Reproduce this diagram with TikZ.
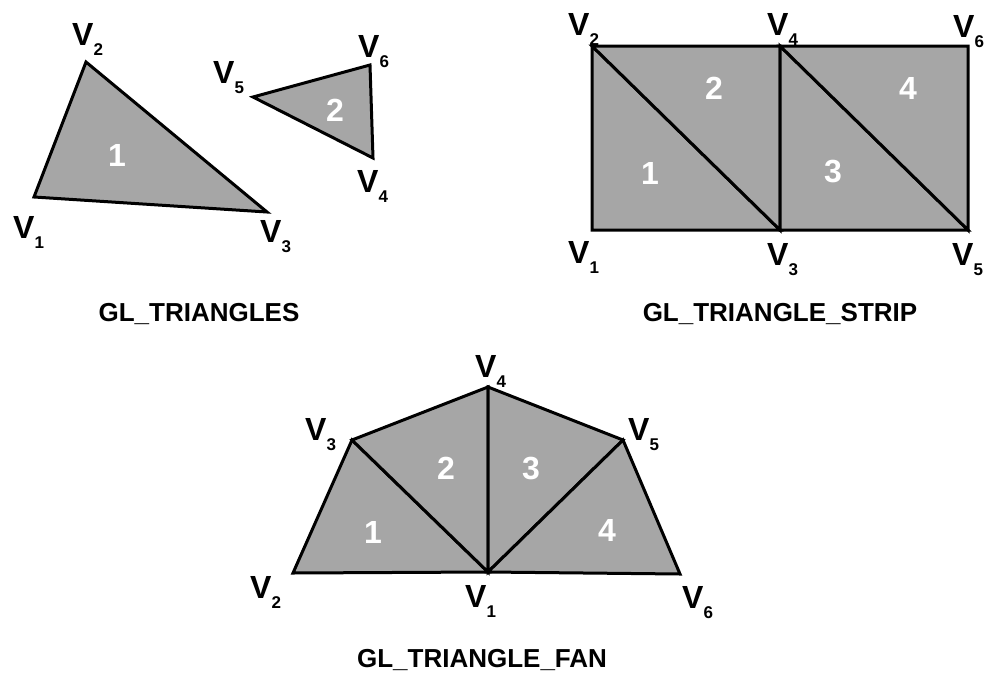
\documentclass[tikz,border=0pt]{standalone}
\usepackage{fontspec}
\setmainfont{Liberation Sans}
\definecolor{trifill}{HTML}{A6A6A6}
\definecolor{triink}{HTML}{000000}
\newcommand{\vsub}[1]{V\raisebox{-10pt}{\fontsize{17}{17}\selectfont #1}}

\begin{document}
\begin{tikzpicture}[
  x=1pt, y=-1pt,
  font=\fontsize{32}{32}\selectfont\bfseries,
  tri/.style={fill=trifill, draw=triink, line width=3pt, line join=miter},
  num/.style={text=white, inner sep=0pt},
  vlab/.style={anchor=base west, inner sep=0pt, text=triink},
  title/.style={anchor=base, inner sep=0pt, font=\fontsize{26}{26}\selectfont\bfseries}]
\useasboundingbox (0,0) rectangle (996,675);
% GL_TRIANGLES
\coordinate (a1) at (34,197);
\coordinate (a2) at (86,62);
\coordinate (a3) at (267,212);
\coordinate (a4) at (373,158);
\coordinate (a5) at (253,97);
\coordinate (a6) at (370,65);
\filldraw[tri] (a1) -- (a2) -- (a3) -- cycle;
\filldraw[tri] (a4) -- (a5) -- (a6) -- cycle;
\node[num] (an1) at (117,155) {1};
\node[num] (an2) at (335,110) {2};
\node[vlab] (av1) at (13,238) {\vsub{1}};
\node[vlab] (av2) at (72,45) {\vsub{2}};
\node[vlab] (av3) at (260,242) {\vsub{3}};
\node[vlab] (av4) at (357,192) {\vsub{4}};
\node[vlab] (av5) at (213,83) {\vsub{5}};
\node[vlab] (av6) at (358,57) {\vsub{6}};
\node[title] (atitle) at (199,321) {GL\_TRIANGLES};
% GL_TRIANGLE_STRIP
\coordinate (b1) at (592,230);
\coordinate (b2) at (592,46);
\coordinate (b3) at (780,230);
\coordinate (b4) at (780,46);
\coordinate (b5) at (968,230);
\coordinate (b6) at (968,46);
\filldraw[tri] (b1) -- (b2) -- (b3) -- cycle;
\filldraw[tri] (b2) -- (b3) -- (b4) -- cycle;
\filldraw[tri] (b3) -- (b4) -- (b5) -- cycle;
\filldraw[tri] (b4) -- (b5) -- (b6) -- cycle;
\node[num] (bn1) at (650,173) {1};
\node[num] (bn2) at (714,88) {2};
\node[num] (bn3) at (833,172) {3};
\node[num] (bn4) at (908,88) {4};
\node[vlab] (bv1) at (568,263) {\vsub{1}};
\node[vlab] (bv2) at (568,35) {\vsub{2}};
\node[vlab] (bv3) at (767,265) {\vsub{3}};
\node[vlab] (bv4) at (767,35) {\vsub{4}};
\node[vlab] (bv5) at (952,265) {\vsub{5}};
\node[vlab] (bv6) at (953,37) {\vsub{6}};
\node[title] (btitle) at (780,321) {GL\_TRIANGLE\_STRIP};
% GL_TRIANGLE_FAN
\coordinate (c1) at (488,572);
\coordinate (c2) at (293,573);
\coordinate (c3) at (352,440);
\coordinate (c4) at (488,387);
\coordinate (c5) at (623,440);
\coordinate (c6) at (680,574);
\filldraw[tri] (c1) -- (c2) -- (c3) -- cycle;
\filldraw[tri] (c1) -- (c3) -- (c4) -- cycle;
\filldraw[tri] (c1) -- (c4) -- (c5) -- cycle;
\filldraw[tri] (c1) -- (c5) -- (c6) -- cycle;
\node[num] (cn1) at (373,532) {1};
\node[num] (cn2) at (446,468) {2};
\node[num] (cn3) at (531,468) {3};
\node[num] (cn4) at (607,530) {4};
\node[vlab] (cv1) at (465,607) {\vsub{1}};
\node[vlab] (cv2) at (250,598) {\vsub{2}};
\node[vlab] (cv3) at (305,440) {\vsub{3}};
\node[vlab] (cv4) at (475,377) {\vsub{4}};
\node[vlab] (cv5) at (628,440) {\vsub{5}};
\node[vlab] (cv6) at (682,608) {\vsub{6}};
\node[title] (ctitle) at (482,667) {GL\_TRIANGLE\_FAN};
\end{tikzpicture}
\end{document}
